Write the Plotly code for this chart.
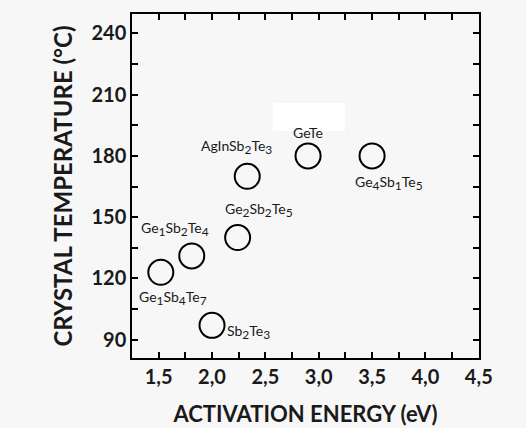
import plotly.graph_objects as go

def sub(s):
    return '<sub><span style="font-size:12px">' + s + '</span></sub>'

materials = ["Ge" + sub("1") + "Sb" + sub("4") + "Te" + sub("7"),
             "Ge" + sub("1") + "Sb" + sub("2") + "Te" + sub("4"),
             "Ge" + sub("2") + "Sb" + sub("2") + "Te" + sub("5"),
             "Sb" + sub("2") + "Te" + sub("3"),
             "AgInSb" + sub("2") + "Te" + sub("3"),
             "GeTe",
             "Ge" + sub("4") + "Sb" + sub("1") + "Te" + sub("5")]
activation_energy = [1.52, 1.81, 2.24, 2.00, 2.33, 2.90, 3.50]
crystal_temp = [123, 131, 140, 97, 170, 180, 180]
label_xshift = [12, -17, 21, 36, -11, 0, 17]
label_yshift = [-26, 27, 28, -7, 29, 23, -27]

FONT = "Lato"
BG = "#f7f7f7"

fig = go.Figure()
fig.add_trace(go.Scatter(
    x=activation_energy, y=crystal_temp, mode="markers",
    marker=dict(symbol="circle-open", size=25, color="black", line=dict(width=2, color="black")),
    hoverinfo="skip", showlegend=False))

for m, xv, yv, dx, dy in zip(materials, activation_energy, crystal_temp, label_xshift, label_yshift):
    fig.add_annotation(x=xv, y=yv, text=m, showarrow=False, xshift=dx, yshift=dy,
                       font=dict(family=FONT, size=14, color="#1a1a1a"))

# white patch present in the original image
fig.add_shape(type="rect", xref="paper", yref="paper", x0=0.406, x1=0.614, y0=0.66, y1=0.741,
              fillcolor="white", line=dict(width=0), layer="below")

axis_common = dict(showline=True, linecolor="black", linewidth=1.5, mirror="allticks",
                   ticks="inside", ticklen=6, tickwidth=1.5, tickcolor="black",
                   showgrid=False, zeroline=False, automargin=False,
                   tickfont=dict(family=FONT, size=20, color="#1a1a1a", weight="bold"))

fig.update_xaxes(range=[1.25, 4.502], tick0=0, dtick=0.5, tickformat=".1f",
                 minor=dict(dtick=0.25, ticks="inside", ticklen=6, tickwidth=1.5, tickcolor="black"),
                 title=dict(text="ACTIVATION ENERGY (eV)", standoff=20,
                            font=dict(family=FONT, size=22, color="#1a1a1a", weight="bold")),
                 **axis_common)
fig.update_yaxes(range=[81, 249.5], tick0=0, dtick=30,
                 minor=dict(dtick=15, ticks="inside", ticklen=6, tickwidth=1.5, tickcolor="black"),
                 title=dict(text="CRYSTAL TEMPERATURE (°C)", standoff=12,
                            font=dict(family=FONT, size=24, color="#1a1a1a", weight="bold")),
                 **axis_common)

fig.update_layout(width=526, height=428, margin=dict(l=132, r=47, t=14, b=70),
                  paper_bgcolor=BG, plot_bgcolor=BG, separators=",.")

fig.write_html("out.html")
